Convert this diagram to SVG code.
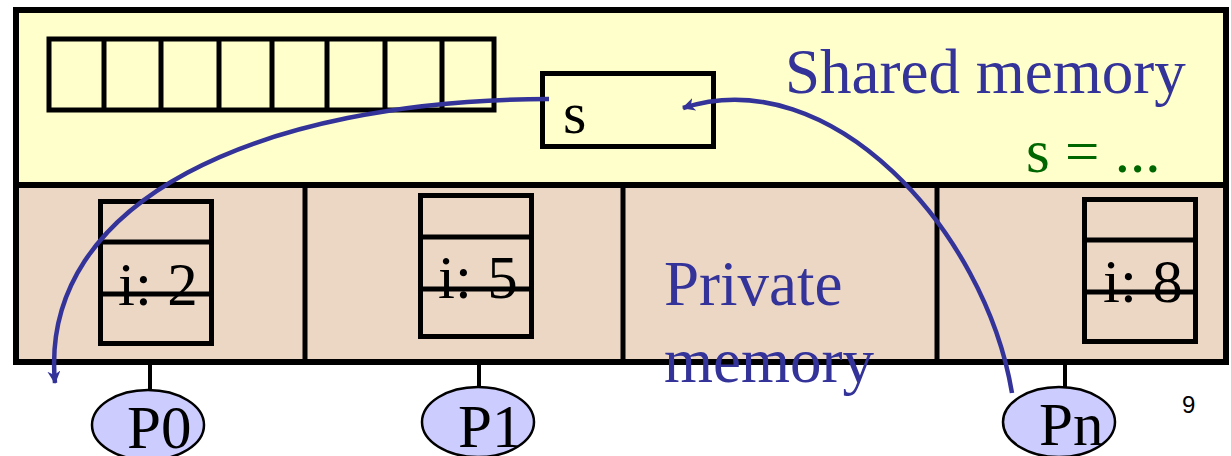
<svg xmlns="http://www.w3.org/2000/svg" width="1231" height="456" viewBox="0 0 1231 456">
<defs>
<style>
.box{fill:none;stroke:#000;stroke-width:5}
.ln{stroke:#000;stroke-width:5}
.serif{font-family:"Liberation Serif","Times New Roman",serif}
.big{font-size:61px}
.blue{fill:#333399}
.conn{fill:none;stroke:#333399;stroke-width:4.5}
.proc ellipse{fill:#CCCCFF;stroke:#000;stroke-width:2.5}
.stem{stroke:#000;stroke-width:4}
</style>
<marker id="ah" viewBox="0 0 12 12" refX="11" refY="6" markerWidth="13" markerHeight="13" markerUnits="userSpaceOnUse" orient="auto">
<path d="M0,0 L12,6 L0,12 L3.5,6 z" fill="#333399"/>
</marker>
</defs>
<rect width="1231" height="456" fill="#fff"/>
<g id="shared">
<rect x="16" y="10" width="1210" height="175" fill="#FFFFCC"/>
</g>
<g id="private">
<rect x="16" y="185" width="1210" height="177" fill="#EBD7C4"/>
<line class="ln" x1="305" y1="185" x2="305" y2="362"/>
<line class="ln" x1="623" y1="185" x2="623" y2="362"/>
<line class="ln" x1="937" y1="185" x2="937" y2="362"/>
</g>
<rect x="16" y="10" width="1210" height="352" fill="none" stroke="#000" stroke-width="6"/>
<line x1="16" y1="185" x2="1226" y2="185" stroke="#000" stroke-width="6"/>
<g id="array">
<rect class="box" x="49" y="39" width="445" height="71"/>
<line class="ln" x1="104" y1="39" x2="104" y2="110"/>
<line class="ln" x1="161" y1="39" x2="161" y2="110"/>
<line class="ln" x1="219" y1="39" x2="219" y2="110"/>
<line class="ln" x1="272" y1="39" x2="272" y2="110"/>
<line class="ln" x1="327" y1="39" x2="327" y2="110"/>
<line class="ln" x1="385" y1="39" x2="385" y2="110"/>
<line class="ln" x1="442" y1="39" x2="442" y2="110"/>
</g>
<g id="s-var">
<rect class="box" x="542.5" y="73.5" width="171" height="73"/>
<text class="serif" x="563" y="133" font-size="60">s</text>
</g>
<g id="shared-label">
<text class="serif blue" x="785" y="93" font-size="63">Shared memory</text>
</g>
<g id="assign">
<text class="serif" x="1026" y="172" font-size="61" fill="#006600">s = ...</text>
</g>
<g id="stack0">
<text class="serif big" x="118" y="305">i: 2</text>
<rect class="box" x="100.5" y="201.5" width="111" height="142"/>
<line class="ln" x1="100" y1="242" x2="212" y2="242"/>
<line class="ln" x1="100" y1="294" x2="212" y2="294"/>
</g>
<g id="stack1">
<text class="serif big" x="438" y="298">i: 5</text>
<rect class="box" x="420.5" y="195.5" width="111" height="141"/>
<line class="ln" x1="420" y1="237" x2="532" y2="237"/>
<line class="ln" x1="420" y1="289" x2="532" y2="289"/>
</g>
<g id="stackn">
<text class="serif big" x="1103" y="302">i: 8</text>
<rect class="box" x="1084.5" y="199.5" width="111" height="142"/>
<line class="ln" x1="1084" y1="240" x2="1196" y2="240"/>
<line class="ln" x1="1084" y1="292" x2="1196" y2="292"/>
</g>
<g id="private-label">
<text class="serif blue" x="664" y="305" font-size="63">Private</text>
<text class="serif blue" x="664" y="382" font-size="63">memory</text>
</g>
<g id="P0" class="proc">
<line class="stem" x1="150" y1="362" x2="150" y2="391"/>
<ellipse cx="148" cy="425" rx="56" ry="35"/>
<text class="serif" x="127" y="448" font-size="61">P0</text>
</g>
<g id="P1" class="proc">
<line class="stem" x1="479" y1="362" x2="479" y2="388"/>
<ellipse cx="478" cy="422" rx="56" ry="35"/>
<text class="serif" x="458" y="447" font-size="61">P1</text>
</g>
<g id="Pn" class="proc">
<line class="stem" x1="1065" y1="362" x2="1065" y2="388"/>
<ellipse cx="1059" cy="422" rx="56" ry="35"/>
<text class="serif" x="1039" y="445" font-size="61">Pn</text>
</g>
<g id="page">
<text x="1182" y="413" font-family="Liberation Sans, Arial, sans-serif" font-size="24">9</text>
</g>
<g id="connectors">
<path class="conn" d="M549,99 C260,100 38,200 55,383" marker-end="url(#ah)"/>
<path class="conn" d="M1012,393 C985,230 830,60 683,108" marker-end="url(#ah)"/>
</g>
</svg>
